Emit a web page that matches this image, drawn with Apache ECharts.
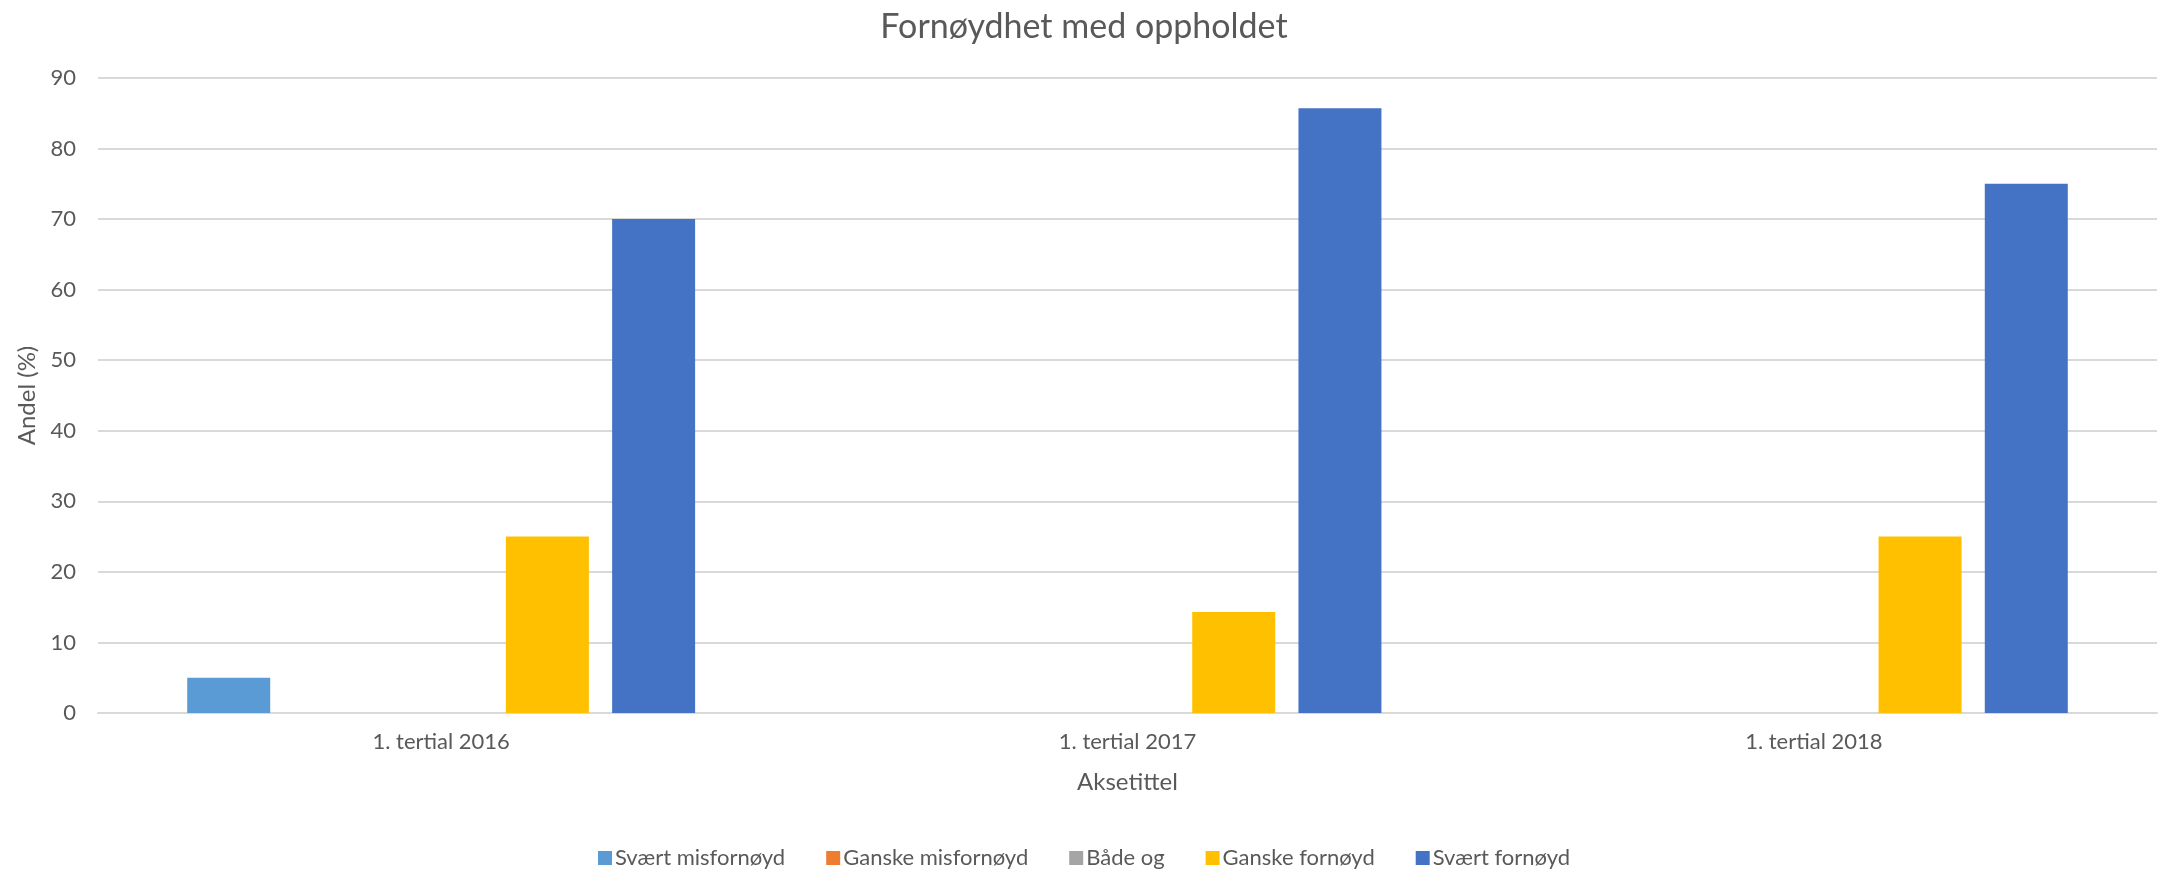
<!DOCTYPE html>
<html>
<head>
<meta charset="utf-8">
<script src="https://cdn.jsdelivr.net/npm/echarts@6/dist/echarts.min.js"></script>
<style>html,body{margin:0;padding:0;background:#fff}#c{width:2168px;height:870px}</style>
</head>
<body>
<div id="c"></div>
<script>
const categories = ['1. tertial 2016', '1. tertial 2017', '1. tertial 2018'];
const seriesNames = ['Svært misfornøyd', 'Ganske misfornøyd', 'Både og', 'Ganske fornøyd', 'Svært fornøyd'];
const svaertMisfornoyd = [5, 0, 0];
const ganskeMisfornoyd = [0, 0, 0];
const badeOg = [0, 0, 0];
const ganskeFornoyd = [25, 14.3, 25];
const svaertFornoyd = [70, 85.7, 75];
const colors = ['#5B9BD5', '#ED7D31', '#A5A5A5', '#FFC000', '#4472C4'];
const values = [svaertMisfornoyd, ganskeMisfornoyd, badeOg, ganskeFornoyd, svaertFornoyd];

const FONT = 'Lato';
const TXT = '#595959';
const chart = echarts.init(document.getElementById('c'));
chart.setOption({
  animation: false,
  color: colors,
  title: {
    text: 'Fornøydhet med oppholdet',
    left: 'center',
    top: 5,
    textStyle: { fontFamily: FONT, fontSize: 34, fontWeight: 'normal', color: TXT }
  },
  legend: {
    data: seriesNames,
    left: 'center',
    top: 842,
    icon: 'rect',
    itemWidth: 14,
    itemHeight: 14,
    itemGap: 41,
    textStyle: { fontFamily: FONT, fontSize: 22, color: TXT, padding: [0, 0, 0, -2] }
  },
  grid: { left: 98, right: 11, top: 78, bottom: 157, containLabel: false },
  xAxis: {
    type: 'category',
    data: categories,
    name: 'Aksetittel',
    nameLocation: 'middle',
    nameGap: 57,
    nameTextStyle: { fontFamily: FONT, fontSize: 24, color: TXT },
    axisLine: { lineStyle: { color: '#D9D9D9', width: 2 } },
    axisTick: { show: false },
    axisLabel: { fontFamily: FONT, fontSize: 22, color: TXT, margin: 18 }
  },
  yAxis: {
    type: 'value',
    min: 0,
    max: 90,
    interval: 10,
    name: 'Andel (%)',
    nameLocation: 'middle',
    nameGap: 55,
    nameRotate: 90,
    nameTextStyle: { fontFamily: FONT, fontSize: 24, color: TXT },
    axisLine: { show: false },
    axisTick: { show: false },
    axisLabel: { fontFamily: FONT, fontSize: 22, color: TXT, margin: 22 },
    splitLine: { lineStyle: { color: '#D9D9D9', width: 2 } }
  },
  series: seriesNames.map((n, i) => ({
    name: n,
    type: 'bar',
    data: values[i],
    barGap: '28%',
    barCategoryGap: '26%',
    itemStyle: { color: colors[i] }
  }))
});
</script>
</body>
</html>
